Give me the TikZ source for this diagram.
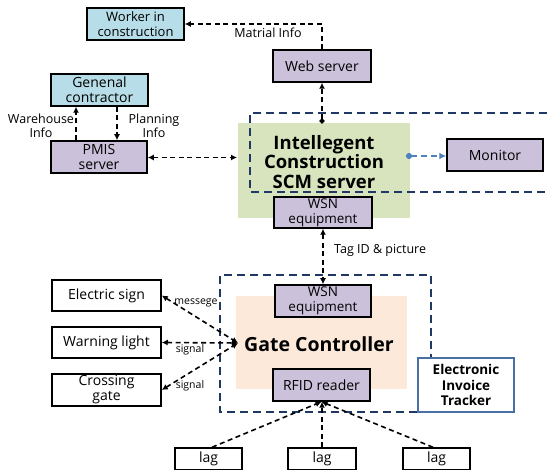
\documentclass[tikz,border=0pt]{standalone}
\usepackage{fontspec}
\setmainfont{Open Sans}
\usetikzlibrary{arrows.meta}
\definecolor{lblue}{HTML}{B7DEE8}
\definecolor{lav}{HTML}{CCC1DA}
\definecolor{lgreen}{HTML}{D7E4BD}
\definecolor{peach}{HTML}{FDE9D9}
\definecolor{navy}{HTML}{1F3864}
\definecolor{mblue}{HTML}{4F81BD}
\definecolor{eitb}{HTML}{4A6FA5}
\tikzset{
  x=1pt,y=-1pt,
  box/.style={draw=black,line width=1.5pt,inner sep=0.5pt,align=center,font=\fontsize{13}{14.5}\selectfont},
  bluebox/.style={box,fill=lblue},
  lavbox/.style={box,fill=lav},
  wbox/.style={box,fill=white,font=\fontsize{14}{15}\selectfont},
  dl/.style={draw=black,line width=1.6pt,dash pattern=on 5pt off 3.5pt},
  tip/.style={-{Latex[length=6pt,width=6pt]}},
  tips/.style={{Latex[length=6pt,width=6pt]}-{Latex[length=6pt,width=6pt]}},
  navyd/.style={draw=navy,line width=2pt,dash pattern=on 8pt off 5pt},
  lbl/.style={font=\fontsize{12.5}{13.5}\selectfont,align=center,inner sep=0pt},
  slbl/.style={font=\fontsize{10.5}{12}\selectfont,align=center,inner sep=0pt},
}
\begin{document}
\begin{tikzpicture}
\useasboundingbox (0,0) rectangle (547,470);
\clip (0,0) rectangle (547,470);
% background areas
\node[fill=lgreen,minimum width=172pt,minimum height=95pt,inner sep=0pt] (scm) at (324,170.5) {};
\node[fill=peach,minimum width=171pt,minimum height=93pt,inner sep=0pt] (gate) at (321.5,342.5) {};
% navy dashed frames
\draw[navyd] (560,113) -- (250,113) -- (250,192) -- (560,192);
\draw[navyd] (417,412) -- (220,412) -- (220,275) -- (431,275) -- (431,358);
% texts in areas
\node[font=\bfseries\fontsize{18.5}{19.5}\selectfont,align=center] (scmt) at (324,162) {Intellegent\\Construction\\SCM server};
\node[font=\bfseries\fontsize{19.5}{21}\selectfont] (gatet) at (319,344) {Gate Controller};
% boxes
\node[bluebox,minimum width=97pt,minimum height=32pt] (worker) at (135.5,24) {Worker in\\construction};
\node[lavbox,minimum width=98pt,minimum height=32pt,font=\fontsize{14}{15}\selectfont] (web) at (322,66) {Web server};
\node[bluebox,minimum width=97pt,minimum height=32pt,font=\fontsize{14}{15}\selectfont] (gc) at (99.5,90) {Genenal\\contractor};
\node[lavbox,minimum width=96pt,minimum height=32pt,font=\fontsize{14}{15}\selectfont] (pmis) at (99,157) {PMIS\\server};
\node[lavbox,minimum width=96pt,minimum height=32pt,font=\fontsize{14}{15}\selectfont] (mon) at (495,155) {Monitor};
\node[lavbox,minimum width=98pt,minimum height=31pt,font=\fontsize{13.5}{15}\selectfont] (wsn1) at (323,212.5) {WSN\\equipment};
\node[lavbox,minimum width=96pt,minimum height=32pt,font=\fontsize{13.5}{15}\selectfont] (wsn2) at (323,301) {WSN\\equipment};
\node[lavbox,minimum width=97pt,minimum height=32pt,font=\fontsize{14}{15}\selectfont] (rfid) at (321.5,385) {RFID reader};
\node[draw=eitb,line width=1.6pt,fill=white,minimum width=96pt,minimum height=54pt,inner sep=0.5pt,align=center,font=\bfseries\fontsize{13.5}{15.5}\selectfont] (eit) at (466,385) {Electronic\\Invoice\\Tracker};
\node[wbox,minimum width=109pt,minimum height=31pt] (esign) at (106.5,295.5) {Electric sign};
\node[wbox,minimum width=109pt,minimum height=31pt] (wlight) at (106.5,342.5) {Warning light};
\node[wbox,minimum width=109pt,minimum height=32pt] (cgate) at (106.5,390) {Crossing\\gate};
\node[wbox,minimum width=67pt,minimum height=22pt,font=\fontsize{14}{15}\selectfont] (tag1) at (208.5,459) {lag};
\node[wbox,minimum width=68pt,minimum height=22pt,font=\fontsize{14}{15}\selectfont] (tag2) at (322,459) {lag};
\node[wbox,minimum width=67pt,minimum height=22pt,font=\fontsize{14}{15}\selectfont] (tag3) at (436.5,459) {lag};
% connectors
\draw[dl,tip] (web.north) |- (worker.east);
\node[lbl] (matl) at (268,33) {Matrial Info};
\coordinate (scmtop) at (322,123.5);
\draw[dl,{Circle[length=5pt]}-{Latex[length=6pt,width=6pt]}] (scmtop) -- (web.south);
\draw[dl,tip] (pmis.north -| 76,0) -- (gc.south -| 76,0);
\draw[dl,tip] (gc.south -| 117,0) -- (pmis.north -| 117,0);
\node[lbl] (wh) at (41,126) {Warehouse\\Info};
\node[lbl] (pl) at (154,126) {Planning\\Info};
\coordinate (scmw) at (237,157.5);
\draw[dl,tips] (pmis.east |- scmw) -- (scmw);
\coordinate (scmr) at (406,156);
\draw[draw=mblue,line width=2pt,dash pattern=on 6pt off 4pt,{Circle[length=6pt]}-{Latex[length=7pt,width=7pt]}] (scmr) -- (mon.west |- scmr);
\draw[dl,tips] (wsn1.south) -- (wsn2.north);
\node[lbl,anchor=west] (tagid) at (334,250) {Tag ID \& picture};
\coordinate (gcl) at (238,343);
\draw[dl,tips] (esign.east) -- (gcl);
\draw[dl,tips] (wlight.east) -- (gcl);
\draw[dl,tips] (cgate.east) -- (gcl);
\node[slbl] (msg) at (196,303) {messege};
\node[slbl] (sig1) at (190,350) {signal};
\node[slbl] (sig2) at (190,386) {signal};
\draw[dl,tip] (tag1.north -| 212,0) -- (rfid.south);
\draw[dl,tip] (tag2.north) -- (rfid.south -| tag2.north);
\draw[dl,tip] (tag3.north -| 433,0) -- (rfid.south);
\end{tikzpicture}
\end{document}
